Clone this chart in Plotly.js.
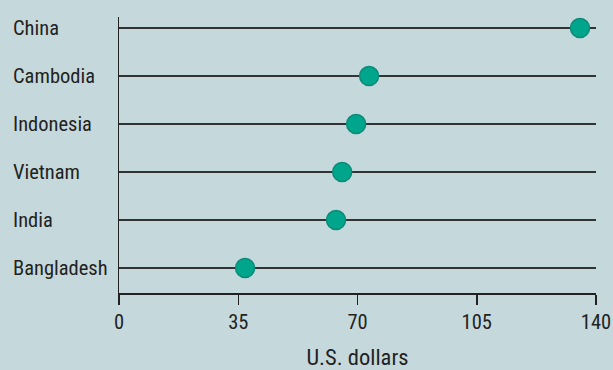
<!DOCTYPE html>
<html>
<head>
<meta charset="utf-8">
<script src="https://cdn.plot.ly/plotly-3.0.1.min.js"></script>
<style>html,body{margin:0;padding:0;background:#c5d9dc;}</style>
</head>
<body>
<div id="chart" style="width:613px;height:370px;"></div>
<script>
const countries = ["Bangladesh", "India", "Vietnam", "Indonesia", "Cambodia", "China"];
const values = [37, 63.7, 65.5, 69.6, 73.4, 135.3];
const xTicks = [0, 35, 70, 105, 140];
const xTitle = "U.S. dollars";

const FONT = "'Liberation Sans Narrow', 'Roboto Condensed', 'Arial Narrow', Roboto, sans-serif";
const FS = 20.5;

const trace = {
  type: "scatter",
  mode: "markers",
  x: values,
  y: countries,
  marker: {size: 19, color: "#00a68c", line: {color: "#0c8a77", width: 1.5}},
  hoverinfo: "x+y"
};

const annotations = countries.map(c => ({
  text: c, xref: "paper", yref: "y", x: -(119 - 11) / 477, y: c,
  xanchor: "left", yanchor: "middle", showarrow: false,
  font: {family: FONT, size: FS, color: "#222"}
}));

const layout = {
  width: 613, height: 370,
  margin: {l: 119, r: 17, t: 17, b: 77},
  paper_bgcolor: "#c5d9dc", plot_bgcolor: "#c5d9dc",
  showlegend: false,
  font: {family: FONT, size: FS, color: "#222"},
  xaxis: {
    range: [0, 140], tickvals: xTicks, ticktext: xTicks.map(String),
    showgrid: false, zeroline: false, showline: true, linecolor: "#222", linewidth: 1.5,
    ticks: "outside", ticklen: 10, tickwidth: 1.5, tickcolor: "#222",
    tickfont: {family: FONT, size: FS, color: "#222"},
    title: {text: xTitle, font: {family: FONT, size: 22.5, color: "#222"}, standoff: 17},
    fixedrange: true
  },
  yaxis: {
    type: "category", categoryorder: "array", categoryarray: countries,
    range: [-0.521, 5.229], showticklabels: false, ticks: "",
    showgrid: true, gridcolor: "#333", gridwidth: 1.5,
    zeroline: false, showline: true, linecolor: "#222", linewidth: 1.5,
    fixedrange: true
  },
  annotations: annotations
};

Plotly.newPlot("chart", [trace], layout, {displayModeBar: false, staticPlot: true});
</script>
</body>
</html>
